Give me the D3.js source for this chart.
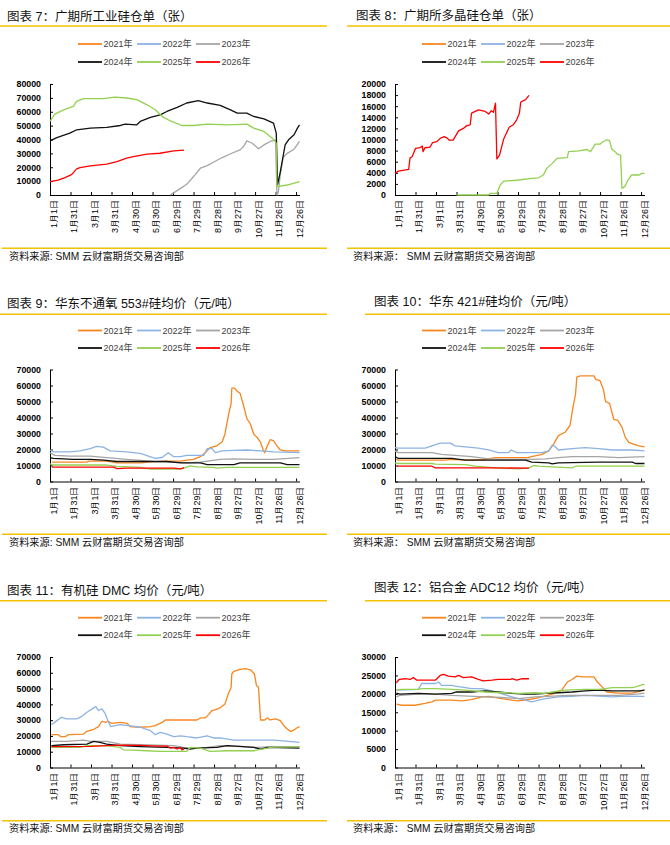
<!DOCTYPE html>
<html><head><meta charset="utf-8">
<script src="https://cdn.jsdelivr.net/npm/d3@7"></script>
<style>
body{margin:0;background:#fff;}
svg{display:block;font-family:"Liberation Sans",Arial,"Noto Sans CJK SC",sans-serif;}
</style></head><body>
<svg id="c" width="670" height="845"></svg>
<script>
// ---------- labels ----------
const years = ["2021年","2022年","2023年","2024年","2025年","2026年"];
const yearColors = ["#F7861F","#8DB3E2","#A5A5A5","#111111","#92D050","#FF0000"];
const tickDays = [0,30,60,90,120,150,180,210,240,270,300,330,360];
const tickLabels = ["1月1日","1月31日","3月1日","3月31日","4月30日","5月30日","6月29日","7月29日","8月28日","9月27日","10月27日","11月26日","12月26日"];
const titles = ["图表 7：广期所工业硅仓单（张）","图表 8：广期所多晶硅仓单（张）","图表 9：华东不通氧 553#硅均价（元/吨）","图表 10：华东 421#硅均价（元/吨）","图表 11：有机硅 DMC 均价（元/吨）","图表 12：铝合金 ADC12 均价（元/吨）"];
const sourceLeft = "资料来源: SMM 云财富期货交易咨询部";
const sourceRight = "资料来源：  SMM 云财富期货交易咨询部";
const yMaxes = [80000, 20000, 70000, 70000, 70000, 30000];
const ySteps = [10000, 2000, 10000, 10000, 10000, 5000];

// ---------- data: [day of year, value] ----------
// 图表7 广期所工业硅仓单
const p7_2023 = [[176,0],[191,4800],[200,7700],[210,13300],[220,19300],[230,21200],[239,23600],[252,27000],[266,30100],[278,32500],[283,34900],[288,39000],[296,37300],[305,33300],[313,36100],[322,38600],[330,39500],[332,0],[334,2000],[337,15000],[341,27000],[347,30000],[357,33000],[365,38600]];
const p7_2024 = [[0,39000],[10,41400],[29,44600],[39,47000],[59,48200],[83,48700],[103,50100],[110,51100],[127,50600],[132,53000],[147,55900],[161,57800],[171,60200],[186,63100],[200,66300],[217,68000],[230,66300],[249,64600],[264,61400],[274,59000],[288,59000],[298,56600],[313,54900],[327,51800],[331,44600],[333,7700],[337,16900],[344,36100],[349,39800],[357,43400],[362,48200],[365,50600]];
const p7_2025 = [[0,53000],[7,58300],[20,61400],[34,63900],[39,67500],[49,69400],[64,69400],[78,69400],[95,70600],[112,69900],[127,68700],[142,65000],[154,61400],[166,55900],[178,53000],[193,50100],[210,50100],[230,51100],[259,50600],[288,51100],[298,48200],[313,45800],[327,40200],[331,37300],[332,6000],[347,7200],[365,9600]];
const p7_2026 = [[0,9600],[12,10800],[22,12500],[32,14900],[39,18800],[44,19800],[59,21000],[83,22200],[98,24100],[112,26500],[122,27700],[142,29400],[161,30100],[181,31800],[196,32300]];

// 图表8 广期所多晶硅仓单
const p8_2025 = [[90,0],[137,0],[139,300],[149,300],[154,1800],[159,2500],[181,2700],[200,3000],[210,3100],[217,3600],[222,4800],[230,5700],[237,6600],[252,6750],[254,7800],[269,7950],[281,8200],[286,7800],[293,9150],[300,9150],[303,9500],[310,9950],[314,9800],[317,8300],[322,7800],[325,7350],[330,7200],[332,1200],[336,1500],[341,2700],[346,3600],[357,3600],[361,3900],[365,3900]];
const p8_2026 = [[0,3900],[5,4300],[20,4600],[22,6700],[25,6900],[30,8400],[37,8550],[40,8800],[41,7800],[44,8550],[51,8600],[55,9450],[61,9600],[66,10200],[72,10500],[76,10300],[79,9900],[85,9900],[93,11550],[100,12000],[105,12500],[110,12650],[112,14750],[122,15350],[132,15060],[137,14580],[141,15200],[144,14900],[147,16570],[149,6500],[153,7200],[159,10100],[164,11400],[167,12200],[173,12650],[178,13550],[182,14750],[184,16750],[191,17170],[196,17950]];

// 图表9 华东不通氧553#硅均价
const p9_2021 = [[3,12100],[54,12100],[56,12700],[83,12700],[98,11700],[132,11700],[147,12300],[171,12700],[191,12700],[200,13400],[210,13800],[220,15500],[227,18000],[234,21200],[244,22300],[252,24800],[256,29700],[261,41400],[265,48800],[266,58400],[270,58400],[274,56300],[278,55200],[283,47800],[288,39300],[293,36100],[298,29700],[303,27600],[308,24400],[312,19700],[314,18000],[318,22300],[322,26100],[327,25500],[332,22300],[337,19700],[344,19100],[365,19100]];
const p9_2022 = [[0,19700],[5,18500],[29,18500],[44,19100],[59,20600],[68,21900],[78,21500],[88,19100],[112,18500],[132,17600],[144,15900],[154,14400],[164,15000],[173,18000],[181,15500],[191,15500],[200,16300],[225,16300],[230,20600],[237,20600],[242,18000],[252,19100],[269,19500],[288,19700],[308,19100],[327,18500],[365,18000]];
const p9_2023 = [[0,18000],[7,16300],[29,15900],[59,15900],[83,14900],[112,13800],[132,13200],[151,12500],[181,12100],[200,11700],[220,12100],[230,12700],[249,13800],[269,14200],[298,13800],[327,13800],[365,14900]];
const p9_2024 = [[0,14900],[5,14400],[34,13800],[59,13800],[78,13400],[98,12500],[171,12500],[191,11700],[220,11700],[230,10600],[269,10600],[278,11700],[337,11700],[347,10600],[365,10600]];
const p9_2025 = [[0,11000],[5,10300],[83,10300],[98,9400],[132,8800],[147,7800],[186,7800],[195,8200],[205,9800],[215,9200],[239,8800],[244,8300],[259,8800],[365,8800]];
const p9_2026 = [[3,9000],[93,9000],[98,8000],[112,8300],[181,8300],[191,7900],[196,8600]];

// 图表10 华东421#硅均价
const p10_2021 = [[2,13800],[5,13400],[73,13400],[83,13800],[107,13400],[132,13800],[147,14900],[195,14900],[200,15500],[215,17000],[225,19100],[232,23400],[239,28700],[249,30800],[256,35000],[260,45600],[264,54100],[266,65200],[271,66000],[291,66000],[294,63700],[300,63000],[305,57300],[308,49900],[314,48800],[320,38900],[326,38200],[332,34000],[337,27600],[342,24400],[349,23400],[357,22300],[365,21700]];
const p10_2022 = [[0,21200],[5,20800],[44,20800],[54,22300],[66,24000],[81,24000],[88,22300],[103,21700],[122,20800],[137,19700],[151,18000],[166,18000],[170,19700],[178,18000],[215,18000],[225,19100],[230,22700],[234,21900],[239,19700],[259,20600],[278,21200],[298,20600],[318,19700],[347,19700],[365,19100]];
const p10_2023 = [[0,19100],[5,18000],[54,18000],[68,17000],[88,16300],[112,15500],[137,14200],[156,13800],[200,13800],[220,14200],[239,14900],[259,15500],[298,15500],[327,14900],[365,15500]];
const p10_2024 = [[0,15500],[5,14400],[83,14400],[103,13400],[191,13400],[200,12100],[225,11700],[230,11000],[239,11700],[298,12100],[347,12100],[352,11250],[365,11250]];
const p10_2025 = [[0,11700],[5,11250],[54,11250],[59,10800],[103,10600],[117,9550],[147,8500],[181,7900],[196,8500],[203,10000],[210,9550],[230,9100],[259,8500],[264,9550],[365,9550]];
const p10_2026 = [[3,9550],[54,9550],[59,8500],[147,8500],[196,8300]];

// 图表11 有机硅DMC均价
const p11_2021 = [[2,20800],[12,20800],[16,19500],[22,19500],[27,20800],[49,21200],[54,22900],[64,24200],[71,25900],[76,29300],[81,28600],[85,29300],[90,28000],[103,28600],[113,28000],[117,25900],[132,25500],[147,25900],[154,26500],[164,28600],[169,30100],[215,30100],[220,31400],[227,31400],[232,33500],[237,36100],[242,36700],[249,37800],[256,40300],[261,46700],[265,50900],[266,59400],[269,60900],[278,62100],[286,62600],[293,61900],[299,59400],[302,52000],[305,50900],[308,30100],[314,30100],[318,31400],[322,30100],[330,30800],[337,29700],[342,26500],[347,24400],[352,22900],[357,23700],[361,25000],[365,25900]];
const p11_2022 = [[2,27100],[10,29700],[17,31800],[24,30800],[39,30800],[46,32200],[54,35000],[64,37800],[67,38600],[71,36100],[76,37100],[81,33900],[85,29300],[89,25900],[95,26500],[103,27100],[115,26500],[132,25500],[147,23300],[154,20800],[161,22300],[171,21200],[181,19500],[191,20100],[200,19500],[215,18700],[230,20100],[239,18700],[249,18700],[269,17400],[298,17400],[327,17400],[337,17000],[365,15900]];
const p11_2023 = [[2,16500],[24,16500],[39,17000],[49,17400],[59,16500],[83,16500],[103,14800],[132,14400],[181,13800],[195,12700],[205,12300],[230,12700],[249,13800],[278,13200],[303,12700],[327,13200],[365,13200]];
const p11_2024 = [[2,13800],[20,14400],[54,14800],[64,16500],[73,15900],[83,14800],[103,13800],[132,13200],[171,12700],[195,12300],[205,11700],[215,12300],[244,12700],[259,13800],[278,13400],[298,12700],[308,11700],[318,12700],[365,12300]];
const p11_2025 = [[2,12700],[44,12700],[54,13800],[83,13800],[103,12700],[107,11200],[122,11000],[142,10600],[161,10200],[200,10200],[205,12700],[220,12300],[234,10200],[259,10600],[298,10600],[318,12300],[322,12700],[365,13200]];
const p11_2026 = [[2,13200],[59,13400],[93,14000],[107,14200],[132,14000],[156,13600],[171,13600],[176,12300],[181,12700],[186,11700],[191,12700],[193,11200],[196,11700]];

// 图表12 铝合金ADC12均价
const p12_2021 = [[2,17200],[10,16900],[29,16900],[44,17400],[54,17800],[59,18300],[83,18300],[98,18100],[112,18400],[127,19200],[137,19300],[147,19000],[156,18700],[171,18300],[181,18100],[200,18600],[210,19000],[230,19900],[244,21000],[252,23200],[259,23900],[266,24800],[274,24600],[291,24600],[296,23200],[303,21900],[310,20500],[327,20200],[347,20200],[365,21000]];
const p12_2022 = [[2,21000],[34,21200],[39,22800],[59,22800],[64,23200],[68,22300],[83,22300],[88,22100],[103,21700],[112,21400],[127,21400],[137,21000],[147,20500],[171,19200],[181,18700],[191,18300],[200,17800],[210,18300],[220,18700],[239,19200],[259,19300],[278,19600],[298,19400],[318,19200],[337,19400],[365,19300]];
const p12_2023 = [[2,19200],[7,19600],[34,19900],[59,19900],[83,19600],[107,19400],[132,19200],[156,19000],[181,18700],[205,19200],[230,19400],[254,19600],[278,19600],[327,19600],[357,20000],[365,20200]];
const p12_2024 = [[2,20200],[7,19900],[34,20100],[59,19900],[83,20100],[90,20500],[112,20500],[132,20800],[151,20500],[171,20100],[191,19900],[205,19900],[220,20100],[239,20300],[259,20500],[278,20800],[298,21000],[318,20800],[337,20800],[357,20800],[365,21000]];
const p12_2025 = [[2,21000],[10,21200],[34,21200],[39,21400],[59,21400],[83,21200],[103,21000],[132,20500],[161,20300],[181,20100],[205,20300],[220,20100],[230,20500],[249,21000],[278,21200],[298,21200],[308,21400],[318,21700],[347,21700],[352,21900],[362,22500],[365,22500]];
const p12_2026 = [[2,23000],[6,23900],[15,24100],[22,23900],[27,24400],[32,23700],[59,23700],[66,25000],[71,25300],[78,24800],[88,24600],[93,25000],[100,24400],[112,24600],[122,23900],[129,23500],[142,23700],[151,23900],[169,23900],[171,24100],[178,23700],[186,24100],[196,24100]];

// series per panel, indexed by year (null = no data)
const panelSeries = [
  [null, null, p7_2023, p7_2024, p7_2025, p7_2026],
  [null, null, null, null, p8_2025, p8_2026],
  [p9_2021, p9_2022, p9_2023, p9_2024, p9_2025, p9_2026],
  [p10_2021, p10_2022, p10_2023, p10_2024, p10_2025, p10_2026],
  [p11_2021, p11_2022, p11_2023, p11_2024, p11_2025, p11_2026],
  [p12_2021, p12_2022, p12_2023, p12_2024, p12_2025, p12_2026]
];

// ---------- layout ----------
const svg = d3.select("#c");
const YELLOW = "#F2C200";
const cols = [
  {ruleX1:0, ruleX2:327, titleX:7, legendX:78, axisX:50, axisEnd:299.5, footRuleX1:2, footRuleX2:327, footX:9, source:sourceLeft},
  {ruleX1:347, ruleX2:670, titleX:356, legendX:422, axisX:395, axisEnd:644.5, footRuleX1:347, footRuleX2:670, footX:353, source:sourceRight}
];
const rows = [
  {titleY:[16.5,15.5], ruleY:26, leg1:44, leg2:62, top:84, bottom:195, footRule:248.3, footY:256.7},
  {titleY:[304,302], ruleY:314.3, leg1:330.5, leg2:348, top:369.5, bottom:481.5, footRule:534.3, footY:542.7},
  {titleY:[591,588], ruleY:600.7, leg1:617.7, leg2:635.2, top:657, bottom:767.5, footRule:820.7, footY:828.5}
];
const rightTitle = [{ruleX1:347,titleX:356},{ruleX1:365,titleX:374},{ruleX1:365,titleX:374}];

function drawPanel(i){
  const col = cols[i % 2], row = rows[Math.floor(i/2)], r = Math.floor(i/2);
  const g = svg.append("g");
  const ruleX1 = (i%2) ? rightTitle[r].ruleX1 : col.ruleX1;
  const titleX = (i%2) ? rightTitle[r].titleX : col.titleX;
  // title
  g.append("text").attr("x", titleX).attr("y", row.titleY[i%2]).attr("dominant-baseline","central")
    .attr("font-size", 12.5).attr("fill","#111").text(titles[i]);
  g.append("line").attr("x1", ruleX1).attr("x2", col.ruleX2).attr("y1", row.ruleY).attr("y2", row.ruleY)
    .attr("stroke", YELLOW).attr("stroke-width", 1.6);
  // legend
  years.forEach((yname, k) => {
    const lx = col.legendX + (k % 3) * 59;
    const ly = k < 3 ? row.leg1 : row.leg2;
    g.append("line").attr("x1", lx).attr("x2", lx + 24).attr("y1", ly).attr("y2", ly)
      .attr("stroke", yearColors[k]).attr("stroke-width", 1.8);
    g.append("text").attr("x", lx + 25.5).attr("y", ly).attr("dominant-baseline","central")
      .attr("font-size", 9).attr("fill","#404040").text(yname);
  });
  // scales
  const x = d3.scaleLinear().domain([0, 365]).range([col.axisX, col.axisEnd]);
  const y = d3.scaleLinear().domain([0, yMaxes[i]]).range([row.bottom, row.top]);
  // axes
  const yAxis = d3.axisLeft(y).tickValues(d3.range(0, yMaxes[i] + 1, ySteps[i]))
    .tickFormat(d3.format("d")).tickSizeInner(-3).tickSizeOuter(0).tickPadding(9);
  const ya = g.append("g").attr("transform", `translate(${col.axisX},0)`).call(yAxis);
  ya.select(".domain").attr("stroke","#000");
  ya.selectAll(".tick line").attr("stroke","#000");
  ya.selectAll("text").attr("font-size", 8.8).attr("font-weight","bold").attr("fill","#000")
    .attr("font-family","Liberation Sans, Arial, sans-serif");
  const xAxis = d3.axisBottom(x).tickValues(tickDays).tickFormat((d, j) => tickLabels[j])
    .tickSizeInner(-3).tickSizeOuter(0);
  const xa = g.append("g").attr("transform", `translate(0,${row.bottom})`).call(xAxis);
  xa.select(".domain").attr("stroke","#000");
  xa.selectAll(".tick line").attr("stroke","#000");
  xa.selectAll("text").attr("font-size", 9).attr("fill","#000")
    .attr("transform","translate(3,5) rotate(-90)").attr("text-anchor","end")
    .attr("x", 0).attr("y", 0).attr("dy","0.35em");
  // lines
  const line = d3.line().x(d => x(d[0])).y(d => y(d[1]));
  panelSeries[i].forEach((s, k) => {
    if (!s) return;
    g.append("path").datum(s).attr("d", line).attr("fill","none")
      .attr("stroke", yearColors[k]).attr("stroke-width", 1.3).attr("stroke-linejoin","round");
  });
  // footer
  g.append("line").attr("x1", col.footRuleX1).attr("x2", col.footRuleX2).attr("y1", row.footRule).attr("y2", row.footRule)
    .attr("stroke", YELLOW).attr("stroke-width", 1.6);
  g.append("text").attr("x", col.footX).attr("y", row.footY).attr("dominant-baseline","central")
    .attr("font-size", 10.2).attr("fill","#111").text(col.source);
}
for (let i = 0; i < 6; i++) drawPanel(i);
</script>
</body></html>
